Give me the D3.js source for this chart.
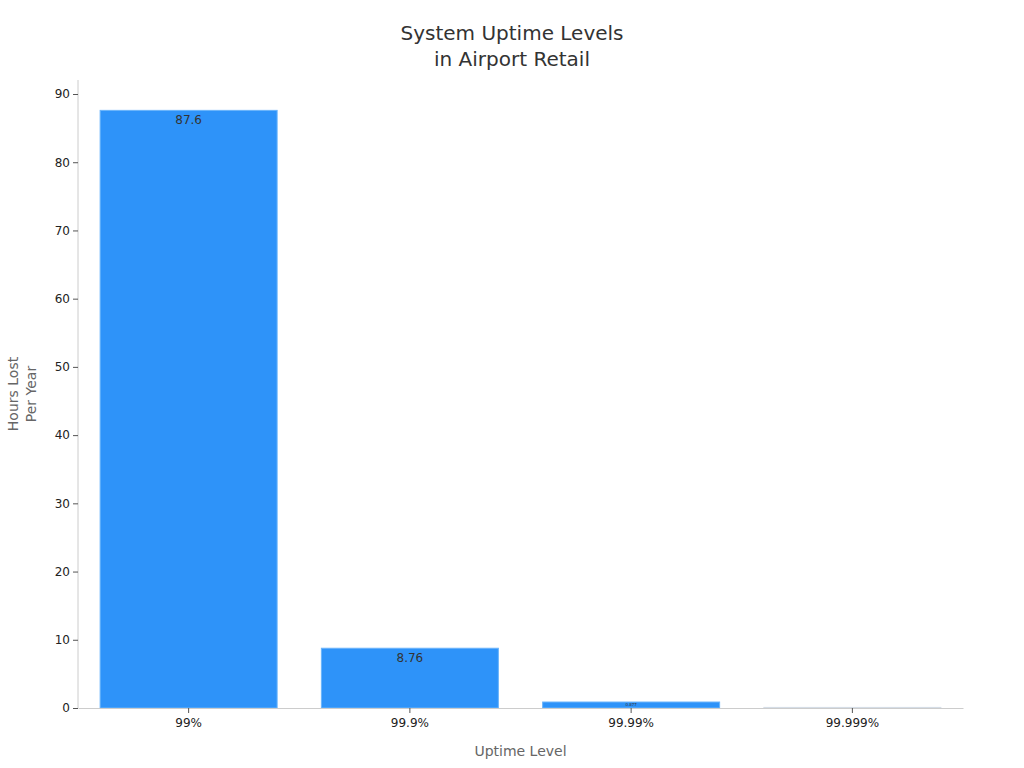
<!DOCTYPE html>
<html><head><meta charset="utf-8">
<script src="https://cdn.jsdelivr.net/npm/d3@7"></script>
<style>body{margin:0;background:#fff;font-family:"DejaVu Sans",sans-serif}</style>
</head><body><svg id="c" width="1024" height="768"></svg>
<script>
const categories = ["99%", "99.9%", "99.99%", "99.999%"];
const hoursLost = [87.6, 8.76, 0.877, 0.0877];
const valueLabels = ["87.6", "8.76", "0.877", ""];
const yTicks = [0,10,20,30,40,50,60,70,80,90];

const svg = d3.select("#c");
const m = {l:78, r:963, t:80, b:708};
const x = d3.scaleBand().domain(categories).range([m.l, m.r]).paddingInner(0.2).paddingOuter(0.1);
const y = d3.scaleLinear().domain([0, 92]).range([m.b, m.b - (m.b-94)*92/90]);

svg.append("text").attr("x",512).attr("y",40).attr("text-anchor","middle").attr("font-size",20).attr("fill","#333").text("System Uptime Levels");
svg.append("text").attr("x",512).attr("y",66).attr("text-anchor","middle").attr("font-size",20).attr("fill","#333").text("in Airport Retail");

svg.selectAll("rect.bar").data(hoursLost).join("rect")
  .attr("x",(d,i)=>x(categories[i])).attr("width",x.bandwidth())
  .attr("y",d=>y(d)).attr("height",d=>y(0)-y(d))
  .attr("fill",(d,i)=> i===3 ? "#d5dde6" : "#2e93f9").attr("stroke",(d,i)=> i===3 ? "#d5dde6" : "#6ab4fb").attr("stroke-width",1);

svg.selectAll("text.vl").data(hoursLost).join("text")
  .attr("x",(d,i)=>x(categories[i])+x.bandwidth()/2)
  .attr("y",(d,i)=> i===2 ? y(d)+4 : y(d)+14)
  .attr("text-anchor","middle").attr("font-size",(d,i)=> i===2 ? 4 : 12).attr("fill","#333")
  .text((d,i)=>valueLabels[i]);

const ya = svg.append("g").attr("transform",`translate(${m.l},0)`).call(d3.axisLeft(y).tickValues(yTicks).tickSize(5).tickSizeOuter(0));
ya.select(".domain").attr("stroke","#ccc").attr("d",`M0,${m.t}V${m.b}`);
ya.selectAll(".tick line").attr("stroke","#555");
ya.selectAll("text").attr("font-size",12).attr("fill","#222").attr("font-family","DejaVu Sans");

const xa = svg.append("g").attr("transform",`translate(0,${m.b})`).call(d3.axisBottom(x).tickSize(5).tickSizeOuter(0));
xa.select(".domain").attr("stroke","#ccc");
xa.selectAll(".tick line").attr("stroke","#555");
xa.selectAll("text").attr("font-size",12).attr("fill","#222").attr("font-family","DejaVu Sans").attr("dy","0.9em");

svg.append("text").attr("x",(m.l+m.r)/2).attr("y",756).attr("text-anchor","middle").attr("font-size",14).attr("fill","#666").text("Uptime Level");
const yl = svg.append("text").attr("transform","translate(18,394) rotate(-90)").attr("text-anchor","middle").attr("font-size",14).attr("fill","#666");
yl.append("tspan").attr("x",0).attr("dy",0).text("Hours Lost");
yl.append("tspan").attr("x",0).attr("dy",18).text("Per Year");
</script></body></html>
